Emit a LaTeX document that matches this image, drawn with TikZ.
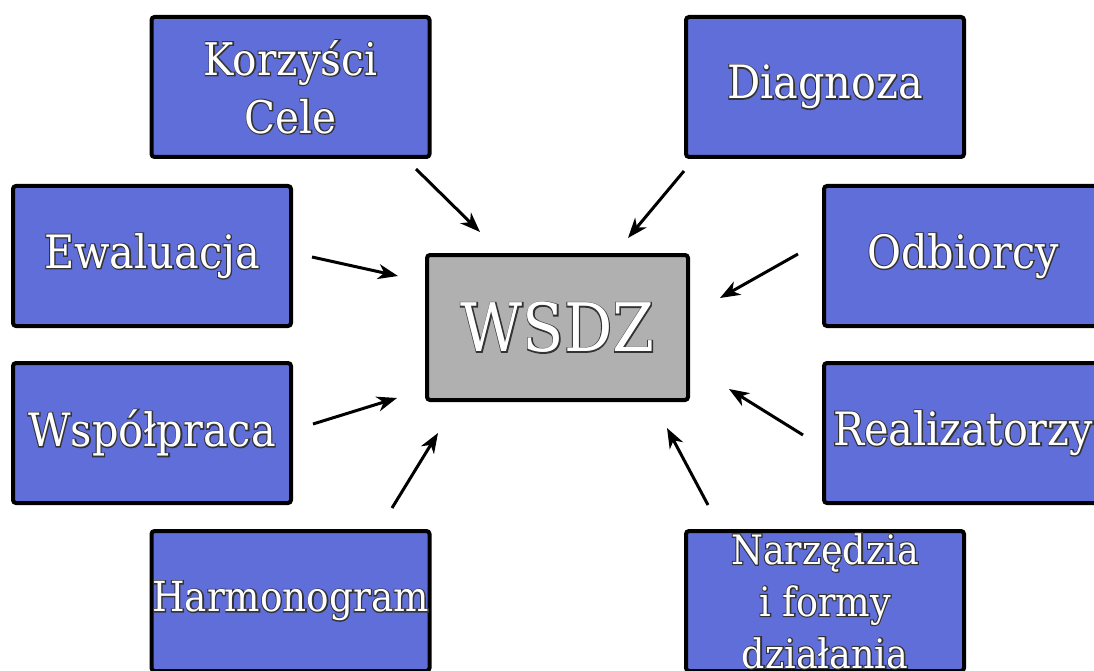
\documentclass[tikz,border=0pt]{standalone}
\usepackage{fontspec}
\setmainfont{DejaVu Serif}[FakeStretch=0.9]
\usetikzlibrary{arrows.meta}
\definecolor{boxblue}{RGB}{96,110,217}
\definecolor{boxgray}{RGB}{176,176,176}
\newcommand\outl[1]{\makebox[0pt][l]{\special{pdf:literal direct 1 Tr 2.2 w 0.2 0.2 0.2 RG}#1\special{pdf:literal direct 0 Tr}}#1}
\tikzset{
  bluebox/.style={draw=black, line width=4pt, fill=boxblue, rounded corners=3pt,
    minimum width=278pt, minimum height=140pt, inner sep=0pt, align=center,
    text=white, font=\fontsize{46}{58}\selectfont},
  graybox/.style={bluebox, fill=boxgray, minimum width=261pt, minimum height=145pt,
    font=\fontsize{67}{80}\selectfont},
  arr/.style={line width=3pt, -{Stealth[length=20pt,width=15pt,inset=6pt]}}
}
\begin{document}
\begin{tikzpicture}[x=1pt,y=-1pt]
\useasboundingbox (0,0) rectangle (1094,671);
\clip (0,0) rectangle (1094,671);
\node[bluebox, font=\fontsize{45}{58}\selectfont] (k) at (290.5,87) {\outl{Korzyści}\\\outl{Cele}};
\node[bluebox] (d) at (825,87) {\outl{Diagnoza}};
\node[bluebox] (e) at (152,256) {\outl{Ewaluacja}};
\node[bluebox] (o) at (963,256) {\outl{Odbiorcy}};
\node[bluebox] (w) at (152,433) {\outl{Współpraca}};
\node[bluebox] (r) at (963,433) {\outl{Realizatorzy}};
\node[bluebox, font=\fontsize{41.5}{50}\selectfont] (h) at (290.5,601) {\outl{Harmonogram}};
\node[bluebox, font=\fontsize{40.5}{52}\selectfont] (n) at (825,601) {\outl{Narzędzia}\\\outl{i formy}\\\outl{działania}};
\node[graybox] (c) at (557.5,327.5) {\outl{WSDZ}};
% arrow end points
\coordinate (k1) at (416,169); \coordinate (k2) at (480,232);
\coordinate (d1) at (684,171); \coordinate (d2) at (628,238);
\coordinate (e1) at (312,257); \coordinate (e2) at (398,276);
\coordinate (o1) at (798,254); \coordinate (o2) at (720,298);
\coordinate (w1) at (313,424); \coordinate (w2) at (397,398);
\coordinate (r1) at (803,435); \coordinate (r2) at (729,389);
\coordinate (h1) at (392,508); \coordinate (h2) at (438,433);
\coordinate (n1) at (708,505); \coordinate (n2) at (667,428);
\foreach \a in {k,d,e,o,w,r,h,n} \draw[arr] (\a1) -- (\a2);
\end{tikzpicture}
\end{document}
